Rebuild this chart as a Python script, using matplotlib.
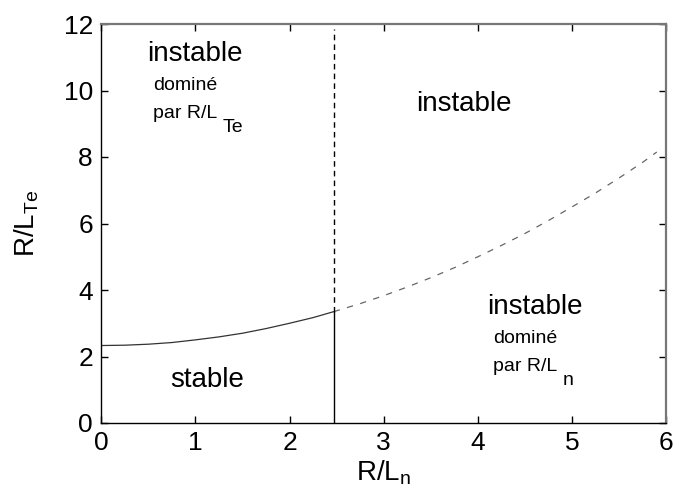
import matplotlib
matplotlib.use("Agg")
import matplotlib.pyplot as plt

plt.rcParams["font.family"] = ["Liberation Sans", "DejaVu Sans"]
plt.rcParams["mathtext.fontset"] = "custom"
plt.rcParams["mathtext.rm"] = "Liberation Sans"
plt.rcParams["mathtext.it"] = "Liberation Sans"

# stability boundary (solid part, stable region)
x_solid = [0.0, 0.25, 0.5, 0.75, 1.0, 1.25, 1.5, 1.75, 2.0, 2.25, 2.47]
y_solid = [2.33, 2.34, 2.37, 2.42, 2.50, 2.59, 2.70, 2.84, 3.00, 3.17, 3.35]
# continuation (dashed part)
x_dash = [2.47, 2.75, 3.0, 3.25, 3.5, 3.75, 4.0, 4.25, 4.5, 4.75, 5.0, 5.25, 5.5, 5.75, 5.9]
y_dash = [3.35, 3.59, 3.83, 4.09, 4.37, 4.67, 5.00, 5.34, 5.70, 6.09, 6.50, 6.92, 7.37, 7.84, 8.15]
# separation at R/Ln
x_sep = 2.47

fig = plt.figure(figsize=(6.75, 5.0), dpi=100)
ax = fig.add_axes([0.150, 0.154, 0.837, 0.798])

ax.plot(x_solid, y_solid, color="#333333", linewidth=0.9)
ax.plot(x_dash, y_dash, color="#666666", linewidth=0.9, dashes=(5, 6))
ax.plot([x_sep, x_sep], [0, y_solid[-1]], color="black", linewidth=1.0)
ax.plot([x_sep, x_sep], [y_solid[-1], 11.85], color="black", linewidth=1.0, dashes=(4, 3))

ax.set_xlim(0, 6)
ax.set_ylim(0, 12)
ax.set_xticks([0, 1, 2, 3, 4, 5, 6])
ax.set_yticks([0, 2, 4, 6, 8, 10, 12])
ax.tick_params(direction="in", length=5, width=1, top=True, right=True,
               labelsize=19, pad=6)
for side in ["left", "bottom"]:
    ax.spines[side].set_color("black")
    ax.spines[side].set_linewidth(1.0)
for side in ["top", "right"]:
    ax.spines[side].set_color("#777777")
    ax.spines[side].set_linewidth(1.6)

ax.set_xlabel(r"R/L$_\mathrm{n}$", fontsize=20, labelpad=2)
ax.set_ylabel(r"R/L$_\mathrm{Te}$", fontsize=20, labelpad=16)


def region_label(x, y, sub):
    ax.text(x, y, "instable", fontsize=20, va="center", ha="left")
    ax.text(x + 0.06, y - 0.95, "dominé", fontsize=14, va="center", ha="left")
    t = ax.text(x + 0.06, y - 1.8, "par R/L", fontsize=14, va="center", ha="left")
    ax.annotate(sub, xy=(1, 0), xycoords=t, xytext=(4, -4),
                textcoords="offset points", fontsize=14, va="center", ha="left")


region_label(0.49, 11.1, "Te")
region_label(4.1, 3.5, "n")
ax.text(3.34, 9.6, "instable", fontsize=20, va="center", ha="left")
ax.text(0.73, 1.3, "stable", fontsize=20, va="center", ha="left")

fig.savefig("out.png", dpi=100)
